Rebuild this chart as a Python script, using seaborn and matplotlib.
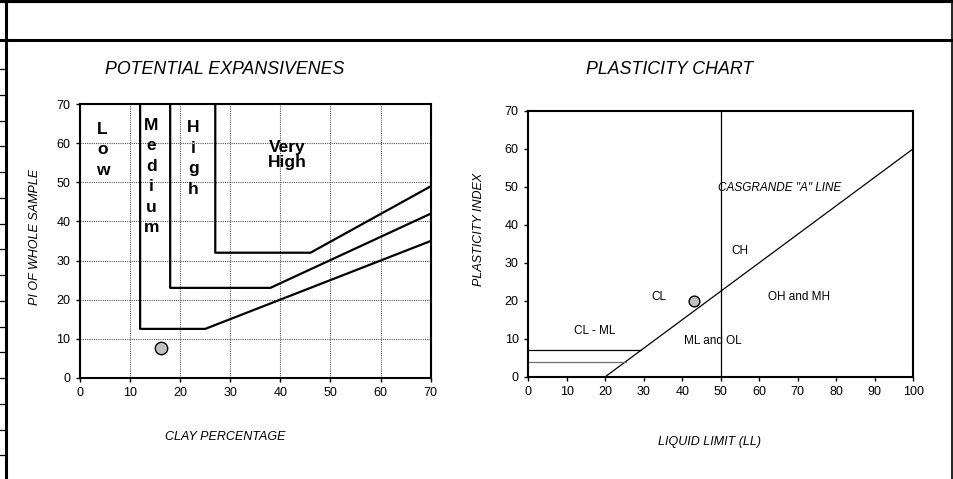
import matplotlib
matplotlib.use("Agg")
import matplotlib.pyplot as plt
import matplotlib.transforms as mtransforms
from matplotlib.lines import Line2D
import seaborn as sns

sns.set_theme(style="white")
plt.rcParams["font.family"] = ["Liberation Sans", "DejaVu Sans"]
plt.rcParams["text.color"] = "black"
plt.rcParams["axes.labelcolor"] = "black"
plt.rcParams["xtick.color"] = "black"
plt.rcParams["ytick.color"] = "black"

# ---- Potential expansiveness (clay % vs PI) ----
medium_x = [12, 12, 25, 70]
medium_y = [70, 12.5, 12.5, 35]
high_x = [18, 18, 38, 70]
high_y = [70, 23, 23, 42]
vhigh_x = [27, 27, 46, 70]
vhigh_y = [70, 32, 32, 49]
sample_clay = [16.2]
sample_pi_whole = [7.5]
exp_ticks = [0, 10, 20, 30, 40, 50, 60, 70]
zone_words = ["Low", "Medium", "High"]
zone_x = [4.5, 14.2, 22.6]
zone_top = [63.6, 64.7, 64.0]

# ---- Plasticity chart (LL vs PI) ----
aline_ll = [20, 100]
aline_pi = [0, 60]
ll50_x = [50, 50]
ll50_y = [0, 70]
clml_top_x = [0, 29.33]
clml_top_y = [7, 7]
clml_bot_x = [0, 25.33]
clml_bot_y = [4, 4]
sample_ll = [43]
sample_pi = [20]
pl_xticks = [0, 10, 20, 30, 40, 50, 60, 70, 80, 90, 100]
pl_yticks = [0, 10, 20, 30, 40, 50, 60, 70]
pl_labels = ["CH", "CL", "OH and MH", "CL - ML", "ML and OL"]
pl_label_x = [55, 34, 70.4, 17.3, 48]
pl_label_y = [33, 21, 21, 12.1, 9.5]

W, H = 954, 479
fig = plt.figure(figsize=(W / 100, H / 100), dpi=100)
fig.patch.set_facecolor("white")


def px(x, y):
    return x / W, 1 - y / H


# page frame
frame = [
    ((0, W), (1.2, 1.2), 3.0),
    ((0, W), (40, 40), 2.2),
    ((6, 6), (0, H), 2.2),
    ((952.5, 952.5), (0, H), 1.2),
]
for xs, ys, lw in frame:
    fx = [x / W for x in xs]
    fy = [1 - y / H for y in ys]
    fig.add_artist(Line2D(fx, fy, color="black", lw=lw, transform=fig.transFigure))
for k in range(16):
    yy = 69 + 25.75 * k
    fig.add_artist(Line2D([0, 5 / W], [1 - yy / H] * 2, color="black", lw=0.9,
                          transform=fig.transFigure))

ax1 = fig.add_axes([80 / W, (H - 377.7) / H, 350.7 / W, 273.4 / H])
ax2 = fig.add_axes([528.3 / W, (H - 376.7) / H, 385 / W, 266 / H])

for ax in (ax1, ax2):
    ax.set_facecolor("white")
    for s in ax.spines.values():
        s.set_visible(True)
        s.set_color("black")
        s.set_linewidth(1.5)
    ax.tick_params(axis="both", which="both", direction="out", length=3, width=1,
                   labelsize=9, colors="black", pad=4)
    ax.tick_params(axis="both", bottom=True, left=True)

# left chart
for xs, ys in [(medium_x, medium_y), (high_x, high_y), (vhigh_x, vhigh_y)]:
    sns.lineplot(x=xs, y=ys, ax=ax1, color="black", lw=1.6, estimator=None,
                 sort=False, legend=False)
sns.scatterplot(x=sample_clay, y=sample_pi_whole, ax=ax1, s=80, color="#c0c0c0",
                edgecolor="black", linewidth=1.0, zorder=5, legend=False)
ax1.set_xlim(0, 70)
ax1.set_ylim(0, 70)
ax1.set_xticks(exp_ticks)
ax1.set_yticks(exp_ticks)
ax1.grid(True, color="#555555", linestyle=(0, (1, 1)), linewidth=0.8)
ax1.set_axisbelow(True)
ax1.set_xlabel("")
ax1.set_ylabel("")

for word, zx, zt in zip(zone_words, zone_x, zone_top):
    for i, ch in enumerate(word):
        tr = mtransforms.offset_copy(ax1.transData, fig=fig, x=0, y=-20.5 * i, units="dots")
        ax1.text(zx, zt, ch, transform=tr, ha="center", va="center",
                 fontsize=12.5, fontweight="bold")
ax1.text(41.4, 57.0, "Very\nHigh", ha="center", va="center", fontsize=12.5,
         fontweight="bold", linespacing=0.95)

# right chart
sns.lineplot(x=ll50_x, y=ll50_y, ax=ax2, color="black", lw=0.9, estimator=None,
             sort=False, legend=False)
sns.lineplot(x=aline_ll, y=aline_pi, ax=ax2, color="black", lw=0.9, estimator=None,
             sort=False, legend=False)
sns.lineplot(x=clml_top_x, y=clml_top_y, ax=ax2, color="black", lw=0.9,
             estimator=None, sort=False, legend=False)
sns.lineplot(x=clml_bot_x, y=clml_bot_y, ax=ax2, color="#707070", lw=0.9,
             estimator=None, sort=False, legend=False)
sns.scatterplot(x=sample_ll, y=sample_pi, ax=ax2, s=60, color="#c0c0c0",
                edgecolor="black", linewidth=1.0, zorder=5, legend=False)
ax2.set_xlim(0, 100)
ax2.set_ylim(0, 70)
ax2.set_xticks(pl_xticks)
ax2.set_yticks(pl_yticks)
ax2.grid(False)
ax2.set_xlabel("")
ax2.set_ylabel("")
for t, lx, ly in zip(pl_labels, pl_label_x, pl_label_y):
    ax2.text(lx, ly, t, ha="center", va="center", fontsize=8.5)
ax2.text(49.3, 49.7, 'CASGRANDE "A" LINE', ha="left", va="center", fontsize=8.5,
         style="italic")

# titles and axis titles
fig.text(*px(224.5, 70), "POTENTIAL EXPANSIVENES", ha="center", va="center",
         fontsize=12.8, style="italic")
fig.text(*px(670, 70), "PLASTICITY CHART", ha="center", va="center",
         fontsize=12.8, style="italic")
fig.text(*px(225, 437), "CLAY PERCENTAGE", ha="center", va="center",
         fontsize=9, style="italic")
fig.text(*px(710, 442), "LIQUID LIMIT (LL)", ha="center", va="center",
         fontsize=9, style="italic")
fig.text(*px(35, 237), "PI OF WHOLE SAMPLE", ha="center", va="center",
         fontsize=9, style="italic", rotation=90)
fig.text(*px(479, 229), "PLASTICITY INDEX", ha="center", va="center",
         fontsize=9, style="italic", rotation=90)

fig.savefig("out.png", dpi=100, facecolor="white")
